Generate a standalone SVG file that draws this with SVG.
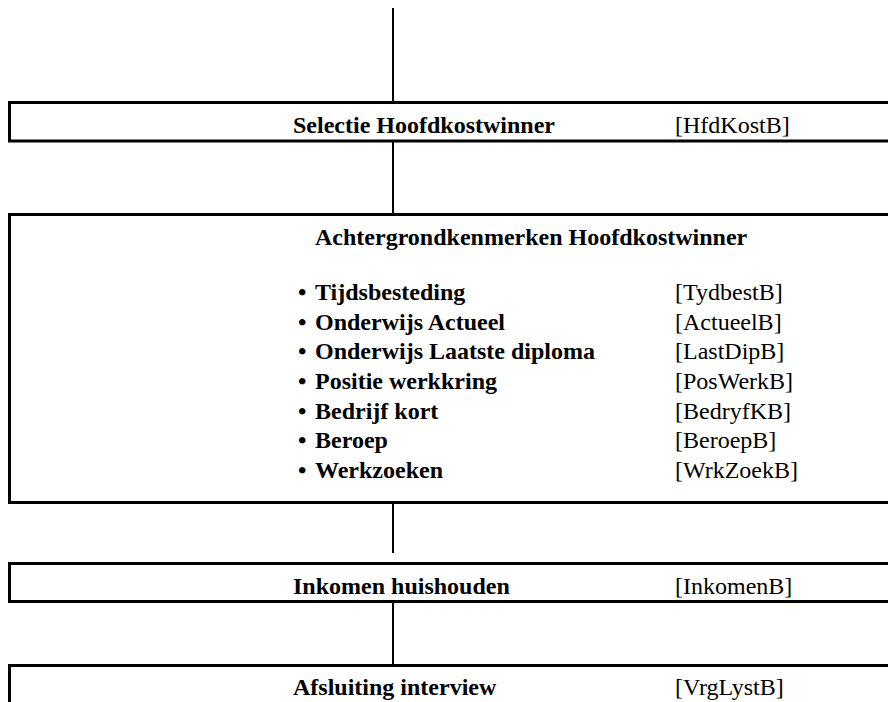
<svg xmlns="http://www.w3.org/2000/svg" width="888" height="702" viewBox="0 0 888 702">
<style>
.box{fill:#fff;stroke:#000;stroke-width:3}
.ln{stroke:#000;stroke-width:2;fill:none}
.b{font-family:"Liberation Serif","Times New Roman",serif;font-size:24px;font-weight:bold;fill:#000}
.r{font-family:"Liberation Serif","Times New Roman",serif;font-size:24px;fill:#000}
</style>
<rect width="888" height="702" fill="#fff"/>
<g id="connectors">
<line class="ln" x1="393" y1="8" x2="393" y2="102"/>
<line class="ln" x1="393" y1="141" x2="393" y2="213"/>
<line class="ln" x1="393" y1="503" x2="393" y2="553"/>
<line class="ln" x1="393" y1="602" x2="393" y2="664"/>
</g>
<g id="selectie">
<rect class="box" x="9.5" y="102.5" width="900" height="38.5"/>
<text class="b" x="293" y="133">Selectie Hoofdkostwinner</text>
<text class="r" x="675" y="133">[HfdKostB]</text>
</g>
<g id="achtergrond">
<rect class="box" x="9.5" y="214.5" width="900" height="288"/>
<text class="b" x="315" y="245">Achtergrondkenmerken Hoofdkostwinner</text>
<text class="b" x="298" y="300">•<tspan x="315">Tijdsbesteding</tspan></text><text class="r" x="675" y="300">[TydbestB]</text>
<text class="b" x="298" y="330">•<tspan x="315">Onderwijs Actueel</tspan></text><text class="r" x="675" y="330">[ActueelB]</text>
<text class="b" x="298" y="359">•<tspan x="315">Onderwijs Laatste diploma</tspan></text><text class="r" x="675" y="359">[LastDipB]</text>
<text class="b" x="298" y="389">•<tspan x="315">Positie werkkring</tspan></text><text class="r" x="675" y="389">[PosWerkB]</text>
<text class="b" x="298" y="419">•<tspan x="315">Bedrijf kort</tspan></text><text class="r" x="675" y="419">[BedryfKB]</text>
<text class="b" x="298" y="448">•<tspan x="315">Beroep</tspan></text><text class="r" x="675" y="448">[BeroepB]</text>
<text class="b" x="298" y="478">•<tspan x="315">Werkzoeken</tspan></text><text class="r" x="675" y="478">[WrkZoekB]</text>
</g>
<g id="inkomen">
<rect class="box" x="9.5" y="563.5" width="900" height="38"/>
<text class="b" x="293" y="594">Inkomen huishouden</text>
<text class="r" x="675" y="594">[InkomenB]</text>
</g>
<g id="afsluiting">
<rect class="box" x="9.5" y="665.5" width="900" height="60"/>
<text class="b" x="293" y="695">Afsluiting interview</text>
<text class="r" x="675" y="695">[VrgLystB]</text>
</g>
</svg>
